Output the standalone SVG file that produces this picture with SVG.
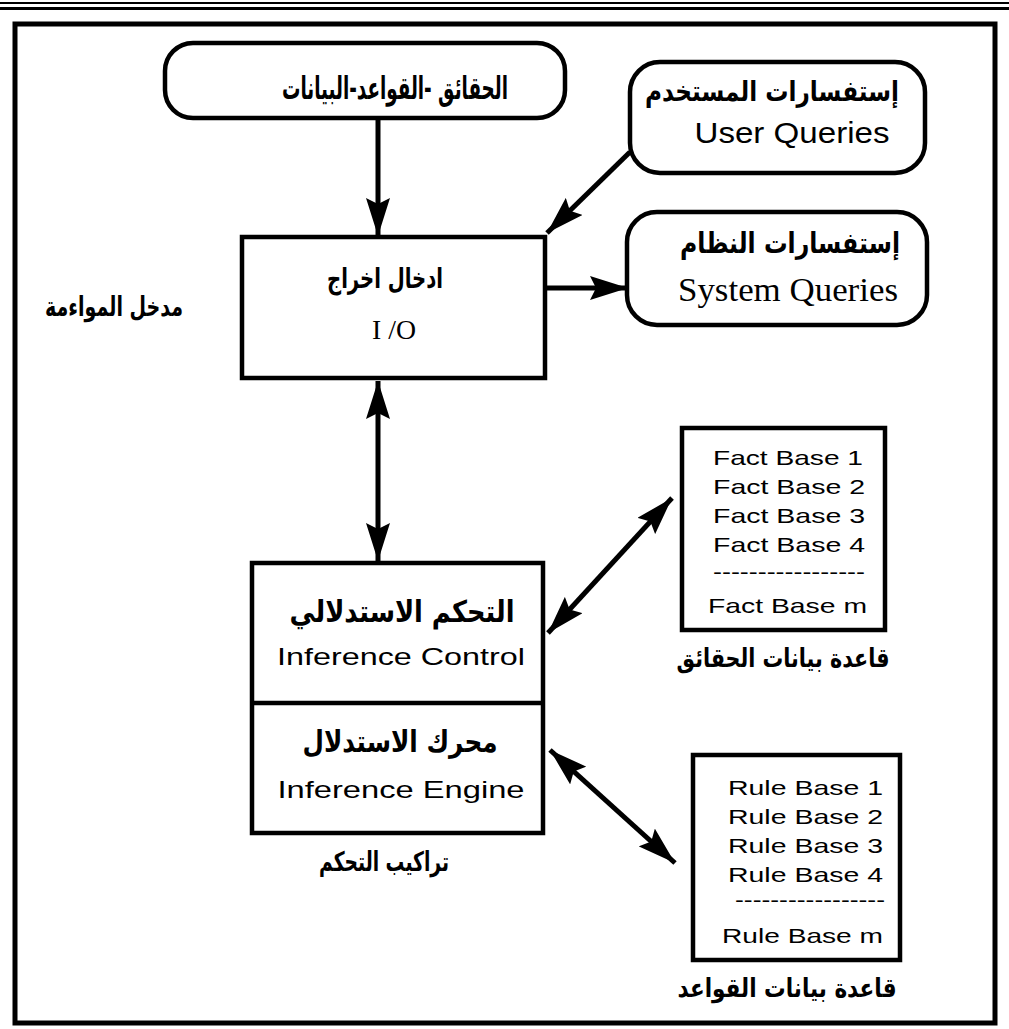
<svg xmlns="http://www.w3.org/2000/svg" width="1009" height="1029" viewBox="0 0 1009 1029">
<style>
.box{fill:#fff;stroke:#000;stroke-width:4.5}
.frame{fill:none;stroke:#000;stroke-width:5}
.ar{font-family:"DejaVu Sans",sans-serif;font-weight:bold;fill:#000}
.en{font-family:"Liberation Sans",Arial,sans-serif;fill:#000}
.sr{font-family:"Liberation Serif","Times New Roman",serif;fill:#000}
.con{stroke:#000;stroke-width:5;fill:none}
</style>
<defs>
<marker id="ah" markerUnits="userSpaceOnUse" markerWidth="40" markerHeight="24" refX="38" refY="12" orient="auto-start-reverse">
<path d="M0,0 L38,12 L0,24 L6,12 Z" fill="#000"/>
</marker>
</defs>
<line x1="0" y1="3" x2="1009" y2="3" stroke="#000" stroke-width="2"/>
<line x1="0" y1="8.5" x2="1009" y2="8.5" stroke="#000" stroke-width="3"/>
<rect class="frame" x="15" y="24" width="980" height="999"/>

<g id="connectors">
<line class="con" x1="378" y1="118" x2="378" y2="236" marker-end="url(#ah)"/>
<line class="con" x1="630" y1="152" x2="547" y2="233" marker-end="url(#ah)"/>
<line class="con" x1="545" y1="288" x2="628" y2="288" marker-end="url(#ah)"/>
<line class="con" x1="378" y1="381" x2="378" y2="561" marker-start="url(#ah)" marker-end="url(#ah)"/>
<line class="con" x1="548" y1="633" x2="672" y2="498" marker-start="url(#ah)" marker-end="url(#ah)"/>
<line class="con" x1="550" y1="750" x2="675" y2="863" marker-start="url(#ah)" marker-end="url(#ah)"/>
</g>

<g id="node-facts-rules-data">
<rect class="box" x="165" y="43" width="400" height="75" rx="28"/>
<text class="ar" x="395" y="99" text-anchor="middle" font-size="31" textLength="226" lengthAdjust="spacingAndGlyphs">الحقائق -القواعد-البيانات</text>
</g>

<g id="node-user-queries">
<rect class="box" x="630" y="62" width="295" height="111" rx="30"/>
<text class="ar" x="772" y="101" text-anchor="middle" font-size="28" textLength="254" lengthAdjust="spacingAndGlyphs">إستفسارات المستخدم</text>
<text class="en" x="792" y="143" text-anchor="middle" font-size="29" textLength="195" lengthAdjust="spacingAndGlyphs">User Queries</text>
</g>

<g id="node-system-queries">
<rect class="box" x="627" y="212" width="300" height="113" rx="30"/>
<text class="ar" x="790" y="253" text-anchor="middle" font-size="29" textLength="220" lengthAdjust="spacingAndGlyphs">إستفسارات النظام</text>
<text class="sr" x="788" y="301" text-anchor="middle" font-size="34" textLength="220" lengthAdjust="spacingAndGlyphs">System Queries</text>
</g>

<g id="node-io">
<rect class="box" x="242" y="237" width="303" height="141"/>
<text class="ar" x="385" y="288" text-anchor="middle" font-size="28" textLength="116" lengthAdjust="spacingAndGlyphs">ادخال اخراج</text>
<text class="sr" x="394" y="339" text-anchor="middle" font-size="28" textLength="44" lengthAdjust="spacingAndGlyphs">I /O</text>
</g>

<g id="label-interface">
<text class="ar" x="114" y="316" text-anchor="middle" font-size="27" textLength="138" lengthAdjust="spacingAndGlyphs">مدخل المواءمة</text>
</g>

<g id="node-inference">
<rect class="box" x="252" y="563" width="291" height="270"/>
<line x1="252" y1="703" x2="543" y2="703" stroke="#000" stroke-width="4.5"/>
<text class="ar" x="402" y="622" text-anchor="middle" font-size="30" textLength="225" lengthAdjust="spacingAndGlyphs">التحكم الاستدلالي</text>
<text class="en" x="401" y="665" text-anchor="middle" font-size="24" textLength="248" lengthAdjust="spacingAndGlyphs">Inference Control</text>
<text class="ar" x="400" y="752" text-anchor="middle" font-size="30" textLength="195" lengthAdjust="spacingAndGlyphs">محرك الاستدلال</text>
<text class="en" x="401" y="798" text-anchor="middle" font-size="24" textLength="247" lengthAdjust="spacingAndGlyphs">Inference Engine</text>
</g>

<g id="label-control-structure">
<text class="ar" x="384" y="871" text-anchor="middle" font-size="27" textLength="130" lengthAdjust="spacingAndGlyphs">تراكيب التحكم</text>
</g>

<g id="node-fact-base">
<rect class="box" x="682" y="428" width="203" height="202"/>
<g class="en" font-size="21">
<text x="713" y="465" textLength="150" lengthAdjust="spacingAndGlyphs">Fact Base 1</text>
<text x="713" y="494" textLength="152" lengthAdjust="spacingAndGlyphs">Fact Base 2</text>
<text x="713" y="523" textLength="152" lengthAdjust="spacingAndGlyphs">Fact Base 3</text>
<text x="713" y="552" textLength="152" lengthAdjust="spacingAndGlyphs">Fact Base 4</text>
<text x="713" y="579" textLength="152" lengthAdjust="spacingAndGlyphs">-----------------</text>
<text x="708" y="613" textLength="159" lengthAdjust="spacingAndGlyphs">Fact Base m</text>
</g>
</g>
<g id="label-fact-db">
<text class="ar" x="783" y="667" text-anchor="middle" font-size="26" textLength="213" lengthAdjust="spacingAndGlyphs">قاعدة بيانات الحقائق</text>
</g>

<g id="node-rule-base">
<rect class="box" x="693" y="755" width="207" height="205"/>
<g class="en" font-size="21">
<text x="728" y="795" textLength="155" lengthAdjust="spacingAndGlyphs">Rule Base 1</text>
<text x="728" y="824" textLength="155" lengthAdjust="spacingAndGlyphs">Rule Base 2</text>
<text x="728" y="853" textLength="155" lengthAdjust="spacingAndGlyphs">Rule Base 3</text>
<text x="728" y="882" textLength="155" lengthAdjust="spacingAndGlyphs">Rule Base 4</text>
<text x="735" y="907" textLength="150" lengthAdjust="spacingAndGlyphs">-----------------</text>
<text x="722" y="943" textLength="161" lengthAdjust="spacingAndGlyphs">Rule Base m</text>
</g>
</g>
<g id="label-rule-db">
<text class="ar" x="787" y="997" text-anchor="middle" font-size="26" textLength="219" lengthAdjust="spacingAndGlyphs">قاعدة بيانات القواعد</text>
</g>
</svg>
